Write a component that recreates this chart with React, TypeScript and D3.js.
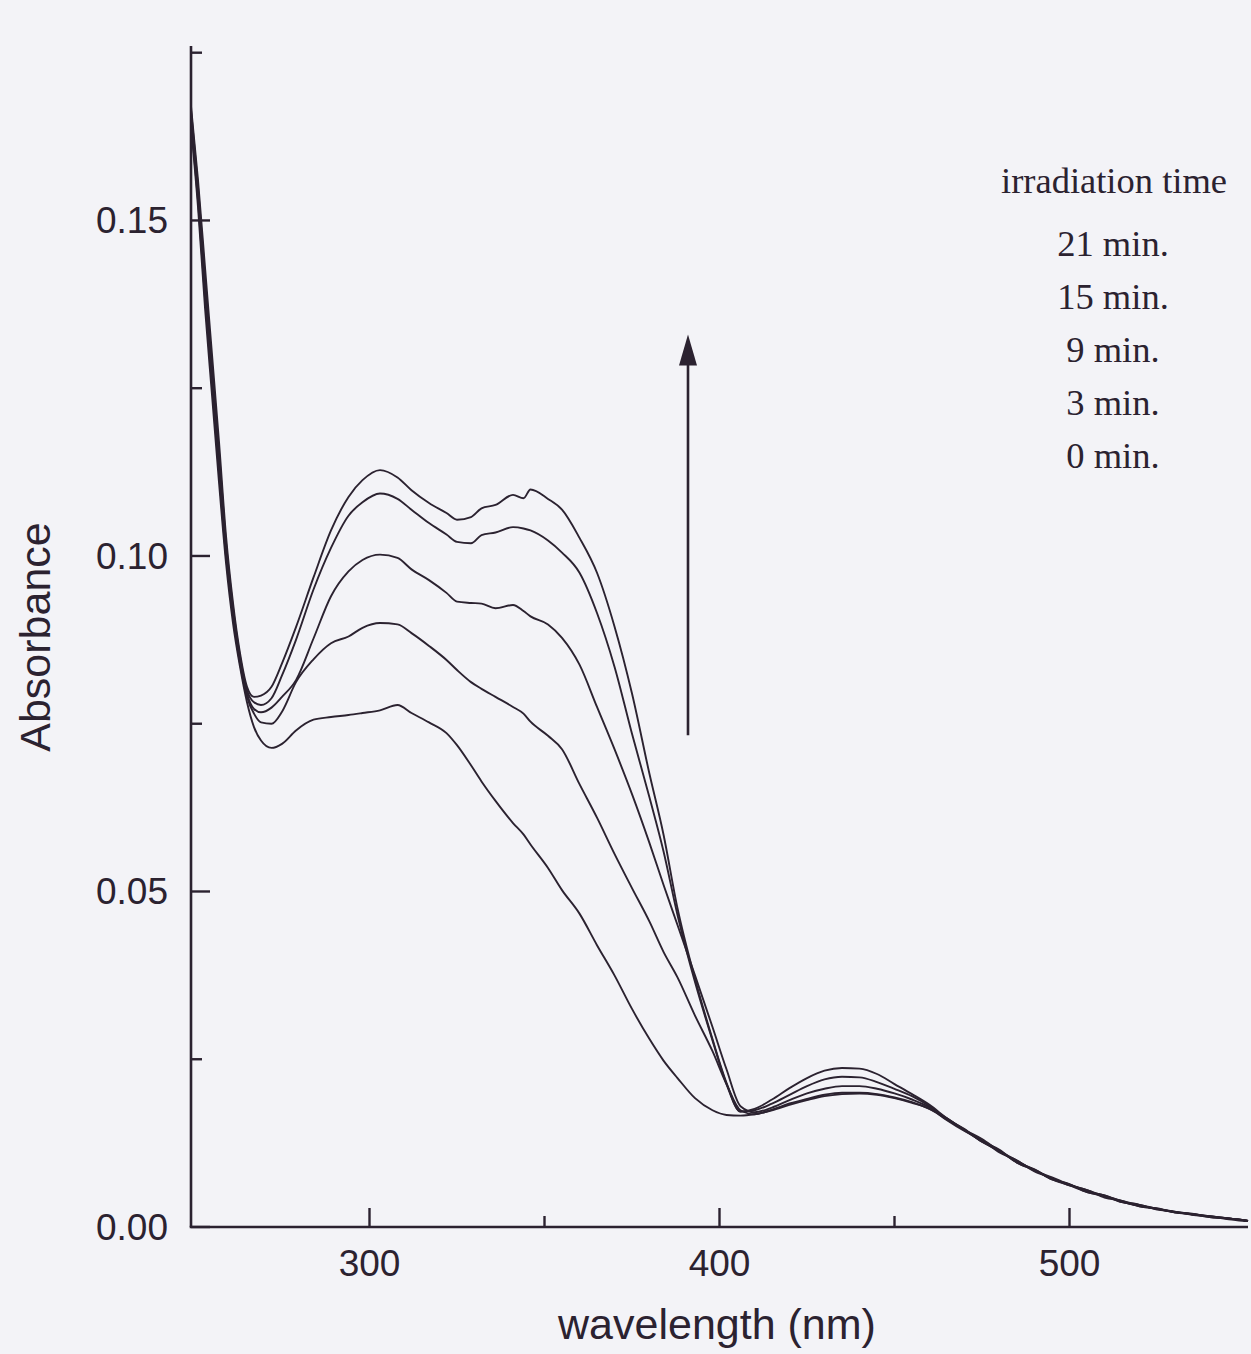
import React from "react";
import * as d3 from "d3";

const wavelengths = [249, 251, 253, 255, 257, 259, 261, 263, 265, 267, 269, 272, 275, 279, 284, 289, 294, 298, 303, 308, 312, 317, 322, 325, 329, 332, 336, 341, 344, 346, 351, 355, 360, 365, 370, 375, 380, 384, 388, 393, 398, 402, 406, 410, 415, 420, 425, 430, 435, 440, 445, 450, 455, 460, 465, 470, 475, 480, 485, 490, 495, 500, 505, 510, 515, 520, 525, 530, 535, 540, 545, 550, 551];

const abs21 = [0.167, 0.156, 0.143, 0.13, 0.117, 0.103, 0.093, 0.0855, 0.0805, 0.079, 0.0792, 0.0805, 0.084, 0.0894, 0.0968, 0.1038, 0.1088, 0.1113, 0.1128, 0.1117, 0.1098, 0.1079, 0.1064, 0.1054, 0.1058, 0.1071, 0.1076, 0.1091, 0.1086, 0.1099, 0.1085, 0.1069, 0.1027, 0.0975, 0.0895, 0.0795, 0.0675, 0.0585, 0.0475, 0.037, 0.028, 0.0215, 0.0172, 0.0176, 0.019, 0.0207, 0.0222, 0.0233, 0.0237, 0.0236, 0.0228, 0.0213, 0.0198, 0.0182, 0.0162, 0.0145, 0.0131, 0.0113, 0.0099, 0.0084, 0.0074, 0.0063, 0.0055, 0.0046, 0.0039, 0.0033, 0.0027, 0.0023, 0.0019, 0.0016, 0.0013, 0.001, 0.0009];
const abs15 = [0.1665, 0.155, 0.1415, 0.1285, 0.1155, 0.102, 0.0923, 0.085, 0.08, 0.0782, 0.0778, 0.0788, 0.0822, 0.0875, 0.095, 0.1012, 0.106, 0.108, 0.1093, 0.1085, 0.1069, 0.1049, 0.1032, 0.1021, 0.1019, 0.1031, 0.1035, 0.1043, 0.1041, 0.1038, 0.1023, 0.1005, 0.0975, 0.0915, 0.0835, 0.0735, 0.064, 0.056, 0.0465, 0.0365, 0.0278, 0.0213, 0.0172, 0.0174, 0.0184, 0.0197, 0.021, 0.022, 0.0224, 0.0223, 0.0216, 0.0206, 0.0195, 0.018, 0.0161, 0.0146, 0.0127, 0.0114, 0.0096, 0.0085, 0.0071, 0.0062, 0.0052, 0.0046, 0.0037, 0.0032, 0.0027, 0.0022, 0.0019, 0.0016, 0.0013, 0.001, 0.0009];
const abs9 = [0.166, 0.154, 0.14, 0.127, 0.114, 0.101, 0.0916, 0.0845, 0.0795, 0.0772, 0.0767, 0.0774, 0.079, 0.0815, 0.0877, 0.094, 0.0977, 0.0994, 0.1002, 0.0997, 0.098, 0.0964, 0.0945, 0.0932, 0.093, 0.0929, 0.0922, 0.0927, 0.0918, 0.091, 0.0898, 0.0878, 0.0838, 0.0775, 0.0712, 0.0645, 0.0572, 0.051, 0.045, 0.0375, 0.0298, 0.0235, 0.018, 0.0171, 0.0178, 0.0189, 0.0199, 0.0206, 0.021, 0.021, 0.0206, 0.0199, 0.019, 0.0178, 0.0159, 0.0143, 0.013, 0.0111, 0.0099, 0.0083, 0.0073, 0.0062, 0.0055, 0.0044, 0.0039, 0.0031, 0.0028, 0.0022, 0.002, 0.0015, 0.0013, 0.001, 0.0009];
const abs3 = [0.165, 0.153, 0.1385, 0.1255, 0.1125, 0.1, 0.091, 0.084, 0.079, 0.0765, 0.0752, 0.075, 0.0768, 0.0812, 0.0846, 0.087, 0.088, 0.0893, 0.09, 0.0898, 0.0885, 0.0866, 0.0845, 0.083, 0.0812, 0.0802, 0.079, 0.0775, 0.0765, 0.0753, 0.0732, 0.0712, 0.066, 0.061, 0.0556, 0.0505, 0.0455, 0.041, 0.0372, 0.0315, 0.0262, 0.0213, 0.0174, 0.0168, 0.0175, 0.0184, 0.0191, 0.0197, 0.02, 0.02, 0.0198, 0.0193, 0.0186, 0.0176, 0.0162, 0.0144, 0.0128, 0.0115, 0.0096, 0.0085, 0.0072, 0.0063, 0.0053, 0.0047, 0.0037, 0.0033, 0.0026, 0.0023, 0.0018, 0.0016, 0.0012, 0.0009, 0.0009];
const abs0 = [0.164, 0.152, 0.137, 0.124, 0.111, 0.099, 0.09, 0.0835, 0.0782, 0.0745, 0.0725, 0.0714, 0.072, 0.074, 0.0756, 0.076, 0.0763, 0.0766, 0.077, 0.0778, 0.0766, 0.0752, 0.0736, 0.0718, 0.0688, 0.0664, 0.0635, 0.0602, 0.0585, 0.057, 0.0535, 0.0502, 0.0467, 0.042, 0.0375, 0.0325, 0.028, 0.0248, 0.0222, 0.0192, 0.0174, 0.0167, 0.0166, 0.0168, 0.0174, 0.0182, 0.0189, 0.0195, 0.0198, 0.0199, 0.0197, 0.0192, 0.0185, 0.0176, 0.016, 0.0145, 0.0127, 0.0113, 0.0097, 0.0086, 0.0071, 0.0064, 0.0052, 0.0047, 0.0038, 0.0031, 0.0027, 0.0022, 0.0019, 0.0015, 0.0013, 0.001, 0.0009];

const seriesList = [abs0, abs3, abs9, abs15, abs21];
const legendTitle = "irradiation time";
const legendLabels = ["21 min.", "15 min.", "9 min.", "3 min.", "0 min."];

const xMajorTicks = [300, 400, 500];
const xMinorTicks = [350, 450];
const yMajorTicks = [0, 0.05, 0.1, 0.15];
const yMinorTicks = [0.025, 0.075, 0.125, 0.175];

const arrowX = 391;
const arrowFrom = 0.0733;
const arrowTo = 0.133;

const W = 1251;
const H = 1354;
const ink = "#2b2230";

export default function App() {
  const x = d3.scaleLinear().domain([249, 551]).range([191, 1248]);
  const y = d3.scaleLinear().domain([0, 0.1757]).range([1227, 48]);

  const line = d3
    .line<[number, number]>()
    .x((d) => x(d[0]))
    .y((d) => y(d[1]))
    .curve(d3.curveMonotoneX);

  const sans = "'Liberation Sans', Arial, sans-serif";
  const serif = "'Liberation Serif', 'Times New Roman', serif";

  const ax = x(arrowX);
  const ayTop = y(arrowTo);
  const ayBot = y(arrowFrom);

  return (
    <svg
      width={W}
      height={H}
      style={{ position: "absolute", left: 0, top: 0 }}
      xmlns="http://www.w3.org/2000/svg"
    >
      <rect x={0} y={0} width={W} height={H} fill="#f3f3f7" />

      {/* axes */}
      <line x1={x(249)} x2={x(249)} y1={46} y2={y(0)} stroke={ink} strokeWidth={2.6} />
      <line x1={x(249) - 1.3} x2={x(551)} y1={y(0)} y2={y(0)} stroke={ink} strokeWidth={2.6} />

      {yMajorTicks.map((t) => (
        <line key={"ym" + t} x1={x(249)} x2={x(249) + 19} y1={y(t)} y2={y(t)} stroke={ink} strokeWidth={2.4} />
      ))}
      {yMinorTicks.map((t) => (
        <line key={"yn" + t} x1={x(249)} x2={x(249) + 11} y1={y(t)} y2={y(t)} stroke={ink} strokeWidth={2.4} />
      ))}
      {xMajorTicks.map((t) => (
        <line key={"xm" + t} x1={x(t)} x2={x(t)} y1={y(0)} y2={y(0) - 19} stroke={ink} strokeWidth={2.4} />
      ))}
      {xMinorTicks.map((t) => (
        <line key={"xn" + t} x1={x(t)} x2={x(t)} y1={y(0)} y2={y(0) - 11} stroke={ink} strokeWidth={2.4} />
      ))}

      {yMajorTicks.map((t) => (
        <text key={"yl" + t} x={168} y={y(t) + 13} textAnchor="end" fontFamily={sans} fontSize={37} fill={ink}>
          {t.toFixed(2)}
        </text>
      ))}
      {xMajorTicks.map((t) => (
        <text key={"xl" + t} x={x(t)} y={1276} textAnchor="middle" fontFamily={sans} fontSize={37} fill={ink}>
          {t}
        </text>
      ))}

      <text
        transform={`translate(50, 637) rotate(-90)`}
        textAnchor="middle"
        fontFamily={sans}
        fontSize={43}
        fill={ink}
      >
        Absorbance
      </text>
      <text x={717} y={1339} textAnchor="middle" fontFamily={sans} fontSize={43} fill={ink}>
        wavelength (nm)
      </text>

      {/* spectra */}
      {seriesList.map((vals, i) => (
        <path
          key={"s" + i}
          d={line(wavelengths.map((w, j) => [w, vals[j]] as [number, number])) || ""}
          fill="none"
          stroke={ink}
          strokeWidth={1.9}
          strokeLinejoin="round"
        />
      ))}

      {/* arrow */}
      <line x1={ax} x2={ax} y1={ayBot} y2={ayTop + 20} stroke={ink} strokeWidth={2.6} />
      <path
        d={`M${ax},${ayTop} L${ax - 9},${ayTop + 31} L${ax + 9},${ayTop + 31} Z`}
        fill={ink}
      />

      {/* legend */}
      <text x={1114} y={193} textAnchor="middle" fontFamily={serif} fontSize={36.5} fill={ink}>
        {legendTitle}
      </text>
      {legendLabels.map((l, i) => (
        <text key={l} x={1113} y={256 + i * 53} textAnchor="middle" fontFamily={serif} fontSize={36.5} fill={ink}>
          {l}
        </text>
      ))}
    </svg>
  );
}
